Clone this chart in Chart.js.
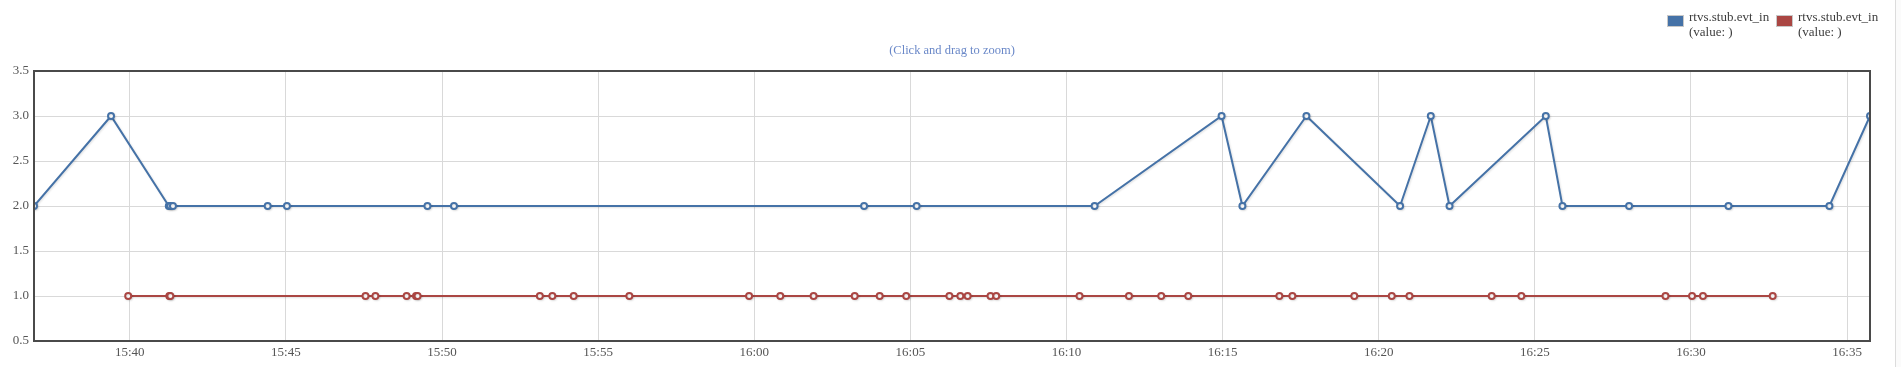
<!DOCTYPE html>
<html>
<head>
<meta charset="utf-8">
<title>rtvs.stub.evt_in</title>
<script src="https://cdn.jsdelivr.net/npm/chart.js@4/dist/chart.umd.min.js"></script>
<style>
  html, body { margin: 0; padding: 0; background: #fff; }
  #wrap { position: relative; width: 1901px; height: 367px; overflow: hidden; }
  #chart { position: absolute; left: 0; top: 0; }
  .sub { position: absolute; left: 0; width: 1904px; top: 43px; text-align: center;
         font: 12.5px "Liberation Serif", "DejaVu Serif", serif; color: #6a88c8; }
  .legend { position: absolute; top: 9px; font: 13px/15px "Liberation Serif", serif; color: #3d3d3d; }
  .legend .box { position: absolute; left: 0; top: 6px; width: 15px; height: 10px; border: 1px solid #c8c8c8; }
  .legend .txt { position: absolute; left: 22px; top: 0; white-space: nowrap; }
  .edge { position: absolute; left: 1895px; top: 0; width: 6px; height: 367px; border-left: 1px solid #dcdcdc; background: #fbfbfb; }
</style>
</head>
<body>
<div id="wrap">
  <canvas id="chart" width="1901" height="367"></canvas>
  <div class="sub">(Click and drag to zoom)</div>
  <div class="legend" style="left:1667px"><div class="box" style="background:#4572A7"></div><div class="txt">rtvs.stub.evt_in<br>(value: )</div></div>
  <div class="legend" style="left:1776px"><div class="box" style="background:#AA4643"></div><div class="txt">rtvs.stub.evt_in<br>(value: )</div></div>
  <div class="edge"></div>
</div>
<script>
// Series: event counts sampled over time (HH:MM:SS)
const blueTimes = ['15:36:56', '15:39:24', '15:41:15', '15:41:18', '15:41:23', '15:44:25', '15:45:02',
  '15:49:32', '15:50:23', '16:03:31', '16:05:12', '16:10:54', '16:14:58', '16:15:38', '16:17:41',
  '16:20:41', '16:21:40', '16:22:16', '16:25:21', '16:25:53', '16:28:01', '16:31:12', '16:34:26', '16:35:44'];
const blueValues = [2, 3, 2, 2, 2, 2, 2,
  2, 2, 2, 2, 2, 3, 2, 3,
  2, 3, 2, 3, 2, 2, 2, 2, 3];

const redTimes = ['15:39:57', '15:41:16', '15:41:18', '15:47:33', '15:47:52', '15:48:52', '15:49:10', '15:49:13',
  '15:53:08', '15:53:32', '15:54:13', '15:56:00', '15:59:50', '16:00:50', '16:01:54', '16:03:13',
  '16:04:01', '16:04:52', '16:06:15', '16:06:36', '16:06:50', '16:07:34', '16:07:45', '16:10:25',
  '16:12:00', '16:13:02', '16:13:54', '16:16:49', '16:17:14', '16:19:13', '16:20:25', '16:20:59',
  '16:23:37', '16:24:34', '16:29:11', '16:30:02', '16:30:23', '16:32:37'];
const redValues = redTimes.map(() => 1);

const xTickLabels = ['15:40', '15:45', '15:50', '15:55', '16:00', '16:05', '16:10', '16:15',
  '16:20', '16:25', '16:30', '16:35'];
const yTicks = [0.5, 1.0, 1.5, 2.0, 2.5, 3.0, 3.5];

const BLUE = '#4572A7';
const RED = '#AA4643';
const SERIF = '"Liberation Serif", "DejaVu Serif", serif';

function toSec(t) {
  const p = t.split(':').map(Number);
  return p[0] * 3600 + p[1] * 60 + (p[2] || 0);
}
function fmt(sec) {
  const h = Math.floor(sec / 3600), m = Math.round((sec % 3600) / 60);
  return h + ':' + String(m).padStart(2, '0');
}
function points(times, values) {
  return times.map((t, i) => ({ x: toSec(t), y: values[i] }));
}

const xMin = toSec(blueTimes[0]);
const xMax = toSec(blueTimes[blueTimes.length - 1]);

// Dark frame around the plotting area
const framePlugin = {
  id: 'frame',
  afterDraw(chart) {
    const a = chart.chartArea, ctx = chart.ctx;
    ctx.save();
    ctx.strokeStyle = '#4a4a4a';
    ctx.lineWidth = 2;
    ctx.strokeRect(a.left, a.top, a.right - a.left, a.bottom - a.top);
    ctx.restore();
  }
};

// Soft drop shadow under the series lines
const shadowPlugin = {
  id: 'lineShadow',
  beforeDatasetDraw(chart) {
    const ctx = chart.ctx;
    ctx.save();
    ctx.shadowColor = 'rgba(0,0,0,0.12)';
    ctx.shadowBlur = 2;
    ctx.shadowOffsetX = 1;
    ctx.shadowOffsetY = 1;
  },
  afterDatasetDraw(chart) {
    chart.ctx.restore();
  }
};

function series(label, times, values, color) {
  return {
    label,
    data: points(times, values),
    borderColor: color,
    backgroundColor: color,
    borderWidth: 2,
    pointRadius: 3,
    pointBorderWidth: 2,
    pointBackgroundColor: '#ffffff',
    pointBorderColor: color,
    tension: 0,
    fill: false
  };
}

new Chart(document.getElementById('chart'), {
  type: 'line',
  data: {
    datasets: [
      series('rtvs.stub.evt_in', redTimes, redValues, RED),
      series('rtvs.stub.evt_in', blueTimes, blueValues, BLUE)
    ]
  },
  plugins: [shadowPlugin, framePlugin],
  options: {
    responsive: false,
    animation: false,
    devicePixelRatio: 1,
    layout: { padding: { left: 0, right: 31, top: 71, bottom: 0 } },
    plugins: { legend: { display: false }, title: { display: false }, tooltip: { enabled: false } },
    scales: {
      x: {
        type: 'linear',
        min: xMin,
        max: xMax,
        afterFit(s) { s.height = 26; },
        afterBuildTicks(s) { s.ticks = xTickLabels.map(t => ({ value: toSec(t) })); },
        ticks: {
          callback: v => fmt(v),
          font: { family: SERIF, size: 13 },
          color: '#555',
          padding: 4,
          maxRotation: 0,
          autoSkip: false
        },
        grid: { color: '#d9d9d9', lineWidth: 1, drawTicks: false },
        border: { display: false }
      },
      y: {
        min: 0.5,
        max: 3.5,
        afterFit(s) { s.width = 34; },
        afterBuildTicks(s) { s.ticks = yTicks.map(v => ({ value: v })); },
        ticks: {
          callback: v => Number(v).toFixed(1),
          font: { family: SERIF, size: 13 },
          color: '#555',
          padding: 5
        },
        grid: { color: '#d9d9d9', lineWidth: 1, drawTicks: false },
        border: { display: false }
      }
    }
  }
});
</script>
</body>
</html>
